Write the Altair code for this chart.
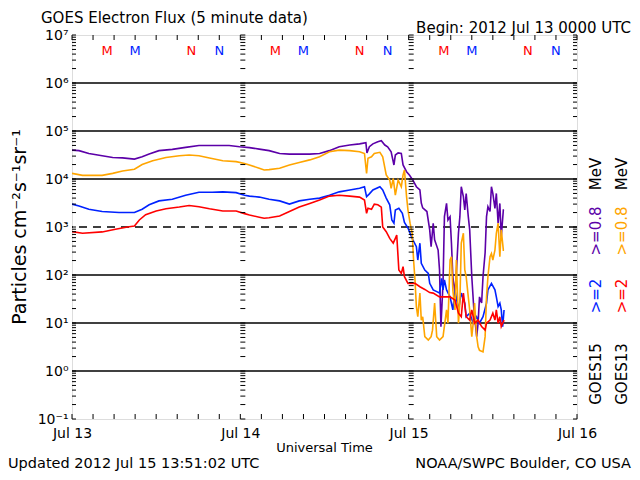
import json
import altair as alt
import pandas as pd

# ---------------- data (hours since 2012 Jul 13 00:00 UT, particle flux) ----------------
g15_08_hours = [0, 1, 2.4, 4.3, 5.8, 7.2, 8.9, 10, 11, 12.4, 14.3, 16.2, 18.1, 20, 22.4, 23.9,
                25.3, 26.7, 28.1, 29.6, 31, 32.4, 33.9, 35.3, 36.7, 38.1, 39.6, 41, 41.9, 42.05, 42.4,
                42.9, 43.6, 44.1, 44.6, 45, 45.5, 45.9, 46.1, 46.5, 46.95, 47.2, 47.7,
                48.1, 48.6, 49.1, 49.6, 49.8, 50.0, 50.6, 51.0, 51.2, 51.5, 51.7, 52.2, 52.4, 52.6,
                52.9, 53.1, 53.4, 53.6, 53.9, 54.1, 54.3, 54.6, 54.8, 55.1, 55.3, 55.5, 55.8, 56,
                56.2, 56.5, 56.7, 57.0, 57.3, 57.7, 57.9, 58.1, 58.4, 58.6, 58.9, 59.1, 59.3, 59.6,
                59.8, 60.0, 60.3, 60.5, 60.75, 61, 61.2, 61.5, 61.6]
g15_08_flux = [4.0e4, 3.9e4, 3.4e4, 3.05e4, 2.8e4, 2.75e4, 2.6e4, 2.9e4, 3.3e4, 3.9e4, 4.15e4, 4.55e4, 5.0e4, 5.0e4, 5.0e4, 4.7e4,
               4.5e4, 4.2e4, 3.9e4, 3.4e4, 3.3e4, 3.3e4, 3.3e4, 3.4e4, 3.9e4, 4.7e4, 5.1e4, 5.4e4, 5.7e4, 3.5e4, 4.7e4,
               5.4e4, 6.0e4, 6.3e4, 5.1e4, 4.7e4, 3.7e4, 1.96e4, 3.16e4, 3.5e4, 3.4e4, 1.96e4, 1.42e4,
               1.21e4, 9.5e3, 6.9e3, 5.9e3, 3.16e3, 2.5e3, 2.1e3, 8.7e2, 3.9e2, 1.2e3, 5.4e2, 3.3e2, 1.27e2, 8.4,
               68, 1.64e3, 3.1e3, 1.4e3, 1.64e3, 4.6e2, 92, 42, 1.1e2, 7.5e2, 1.64e3, 6.9e3, 4.3e3, 2.26e3,
               5.0e3, 1.64e3, 8.7e2, 92, 18.7, 5.2, 10, 35, 26, 92, 2.9e2, 1.64e3, 2.65e3, 2.1e3,
               6.9e3, 5.0e3, 2.45e3, 5.0e3, 1.2e3, 3.1e3, 6.3e2, 2.26e3, 2.26e3]

g13_08_hours = [0, 1.5, 4.3, 5.8, 7.2, 8.9, 10, 11.5, 13.4, 15.3, 16.7, 18.1, 19.6, 21.5, 23.4, 24.6,
                25.3, 26.7, 27.4, 28.1, 29.6, 31, 32.4, 33.9, 35.3, 36.7, 38.1, 39.6, 41, 41.7, 42.0,
                42.2, 42.7, 43.1, 43.9, 44.3, 44.8, 45.3, 45.5, 45.8, 46.1, 46.5, 46.95, 47.2, 47.4,
                47.7, 47.9, 48.2, 48.5, 48.7, 48.9, 49.1, 49.3, 49.6, 49.8, 50.0, 50.3, 50.8, 51.2,
                51.4, 51.7, 52.0, 52.4, 52.9, 53.4, 53.6, 53.9, 54.1, 54.3, 54.6, 54.8, 55.1, 55.3,
                55.5, 55.8, 56, 56.2, 56.5, 56.7, 57.0, 57.2, 57.4, 57.7, 57.9, 58.1, 58.6, 58.9,
                59.1, 59.3, 59.6, 59.8, 60.0, 60.3, 60.5, 60.75, 61, 61.2, 61.5, 61.6]
g13_08_flux = [1.31e4, 1.19e4, 1.19e4, 1.31e4, 1.47e4, 1.6e4, 2.0e4, 2.4e4, 2.8e4, 3.05e4, 3.16e4, 3.05e4, 2.75e4, 2.4e4, 2.3e4, 2.1e4,
               1.96e4, 1.67e4, 1.54e4, 1.57e4, 1.67e4, 1.96e4, 2.2e4, 2.5e4, 2.9e4, 3.7e4, 4.0e4, 3.9e4, 3.7e4, 3.4e4, 1.3e4,
               2.7e4, 2.9e4, 3.4e4, 3.6e4, 2.9e4, 1.21e4, 9.5e3, 6.4e3, 1.03e4, 4.6e3, 9.5e3, 6.9e3, 1.21e4, 1.54e4,
               4.3e3, 2.26e3, 1.2e3, 7.4e2, 2.05e2, 79, 22, 13.5, 42, 11.5, 13.5, 5.2, 4.4, 5.2,
               7.1, 26, 5.2, 4.4, 5.2, 18.7, 9.9, 2.05e2, 2.4e2, 49, 18.7, 2.05e2, 9.9, 26,
               4.6e2, 7.4e2, 1.27e2, 92, 35, 18.7, 5.2, 9.9, 26, 5.2, 3.2, 2.7, 2.5, 5.2,
               35, 92, 2.4e2, 2.8e2, 2.05e2, 3.3e2, 7.4e2, 1.2e3, 2.4e2, 8.7e2, 3.3e2, 3.3e2]

g15_2_hours = [0, 1, 2.4, 4.3, 6.7, 8.9, 10, 11, 12.4, 14.3, 16.2, 18.1, 20, 21.5, 23.4, 24.6,
               25.3, 26.7, 28.1, 29.6, 31, 32.4, 33.9, 35.3, 36.7, 38.1, 39.6, 41, 41.7, 42.0, 42.4,
               42.9, 43.9, 44.3, 44.8, 45.3, 45.6, 45.9, 46.1, 46.6, 47.1, 47.4, 47.9,
               48.2, 48.6, 49.1, 49.3, 49.6, 49.8, 50.3, 50.8, 51, 51.5, 52.0, 52.4, 52.7, 52.9,
               53.1, 53.4, 53.9, 54.3, 54.6, 55.1, 55.5, 56, 56.2, 56.7, 57.2, 57.7, 58.1, 58.6,
               59.1, 59.3, 59.8, 60.3, 60.5, 60.75, 61, 61.2, 61.4, 61.6]
g15_2_flux = [3.0e3, 2.75e3, 2.35e3, 2.1e3, 2.0e3, 2.0e3, 2.35e3, 2.9e3, 3.5e3, 3.8e3, 4.6e3, 5.3e3, 5.3e3, 5.4e3, 5.2e3, 4.6e3,
              4.4e3, 4.2e3, 3.8e3, 3.5e3, 3.0e3, 3.5e3, 3.8e3, 4.0e3, 4.6e3, 5.4e3, 5.9e3, 6.4e3, 6.9e3, 4.3e3, 4.9e3,
              5.9e3, 6.9e3, 5.9e3, 4.0e3, 2.9e3, 1.4e3, 1.2e3, 2.26e3, 2.45e3, 1.93e3, 1.25e3, 9.5e2,
              7.4e2, 5.4e2, 3.9e2, 2.05e2, 4.6e2, 1.75e2, 1.27e2, 1.08e2, 67, 49, 45, 42, 85, 49,
              79, 49, 35, 18.7, 49, 18.7, 42, 26, 13.5, 16, 9.9, 13.5, 9.9, 13.5,
              26, 49, 67, 49, 35, 22, 26, 18.7, 8.4, 18.7]

g13_2_hours = [0, 1.5, 4.3, 6.2, 7.9, 8.9, 9.6, 10.5, 12, 13.4, 15.3, 16.7, 18.1, 19.6, 21.5, 23.4, 24.6,
               25.3, 26.7, 27.4, 28.1, 29.6, 31, 32.4, 33.9, 35.3, 36.7, 38.1, 39.6, 41, 41.7, 42.0,
               42.2, 42.7, 43.1, 43.6, 44.1, 44.3, 44.8, 45.3, 45.8, 46.1, 46.3, 46.6, 46.95, 47.2,
               47.4, 47.9, 48.4, 48.9, 49.6, 50.3, 51, 51.5, 52.4, 53.1, 53.9, 54.6, 55.1, 55.5,
               55.8, 56.2, 56.7, 57, 57.4, 57.9, 58.4, 58.9, 59.1, 59.6, 60, 60.3, 60.5, 60.75,
               61, 61.2, 61.6]
g13_2_flux = [8.0e2, 7.4e2, 7.9e2, 9.0e2, 1.0e3, 1.05e3, 1.4e3, 1.8e3, 2.15e3, 2.4e3, 2.6e3, 2.8e3, 2.65e3, 2.4e3, 2.15e3, 2.15e3, 1.9e3,
              1.78e3, 1.6e3, 1.52e3, 1.56e3, 1.7e3, 2.1e3, 2.6e3, 3.1e3, 3.65e3, 4.4e3, 4.6e3, 4.4e3, 4.2e3, 3.65e3, 1.93e3,
              2.45e3, 2.34e3, 3.0e3, 2.9e3, 2.6e3, 1.0e3, 8.0e2, 5.8e2, 4.6e2, 5.8e2, 6.8e2, 1.27e2, 1.08e2, 1.49e2,
              92, 67, 67, 67, 57, 50, 43, 42, 35, 35, 35, 30, 16, 13.5,
              42, 13.5, 11.5, 18.7, 9.9, 11.5, 8.4, 7.1, 9.9, 11.5, 16, 11.5, 18.7, 9.9,
              13.5, 8.4, 11.5]

day_ticks = [0, 24, 48, 72]
day_labels = ["Jul 13", "Jul 14", "Jul 15", "Jul 16"]
decades = [0.1, 1, 10, 100, 1e3, 1e4, 1e5, 1e6, 1e7]
decade_labels = ["10⁻¹", "10⁰", "10¹", "10²", "10³", "10⁴", "10⁵", "10⁶", "10⁷"]
grid_solid = [1, 10, 100, 1e4, 1e5, 1e6]
grid_dashed = [1e3]
# local midnight (M) / noon (N) markers: hour of day, satellite colour
mn_letters = ["M", "M", "N", "N"]
mn_hours = [5, 9, 17, 21]
mn_colors = ["#ff0000", "#0022ff", "#ff0000", "#0022ff"]

PURPLE, ORANGE, BLUE, RED = "#5c00a8", "#ffa500", "#0022ff", "#ff0000"
FONT = "DejaVu Sans"
W, H = 505, 384

# ---------------- build tables ----------------
def series_df(hours, flux):
    return pd.DataFrame({"hour": hours, "v": flux})

minor_vals = [k * 10.0 ** n for n in range(-1, 7) for k in range(1, 10)] + [1e7]
ytick_df = pd.DataFrame({"v": minor_vals})
xtick_df = pd.DataFrame({"hour": list(range(0, 73, 3))})
daytick_df = pd.DataFrame([{"hour": d, "v": v} for d in day_ticks[1:3] for v in minor_vals])
mn_rows = []
for d in range(3):
    for L, h, c in zip(mn_letters, mn_hours, mn_colors):
        mn_rows.append({"hour": d * 24 + h, "L": L, "c": c})
mn_df = pd.DataFrame(mn_rows)

xscale = alt.Scale(domain=[0, 72], nice=False, zero=False)
yscale = alt.Scale(type="log", domain=[0.1, 1e7], nice=False)

x_axis = alt.Axis(values=day_ticks, labelExpr=f"{json.dumps(day_labels)}[round(datum.value/24)]",
                  ticks=False, domain=False, grid=False, labelFontSize=14, labelPadding=7,
                  labelFlush=False, labelOverlap=False,
                  labelColor="black", labelFont=FONT, title=None)
y_axis = alt.Axis(values=decades,
                  labelExpr=f"{json.dumps(decade_labels, ensure_ascii=False)}[round(log(datum.value)/LN10)+1]",
                  ticks=False, domain=False, grid=False, labelFontSize=14, labelPadding=4,
                  labelFlush=False, labelOverlap=False,
                  labelColor="black", labelFont=FONT, title=None)

X = lambda: alt.X("hour:Q", scale=xscale, axis=x_axis)
Y = lambda: alt.Y("v:Q", scale=yscale, axis=y_axis)

layers = []

# grid lines
layers.append(alt.Chart(pd.DataFrame({"v": grid_solid})).mark_rule(color="black", strokeWidth=1.5)
              .encode(y=Y()))
layers.append(alt.Chart(pd.DataFrame({"v": grid_dashed})).mark_rule(color="black", strokeWidth=1.3, strokeDash=[8, 6])
              .encode(y=Y()))

# data lines
for hrs, flx, col in [(g15_08_hours, g15_08_flux, PURPLE), (g15_2_hours, g15_2_flux, BLUE),
                      (g13_08_hours, g13_08_flux, ORANGE), (g13_2_hours, g13_2_flux, RED)]:
    layers.append(alt.Chart(series_df(hrs, flx)).mark_line(color=col, strokeWidth=1.6, clip=True)
                  .encode(x=X(), y=Y()))

# ticks
layers.append(alt.Chart(xtick_df).mark_rule(color="black", strokeWidth=1)
              .encode(x=X(), y=alt.value(H), y2=alt.value(H - 5)))
layers.append(alt.Chart(xtick_df).mark_rule(color="black", strokeWidth=1)
              .encode(x=X(), y=alt.value(0), y2=alt.value(5)))
layers.append(alt.Chart(ytick_df).mark_rule(color="black", strokeWidth=1)
              .encode(y=Y(), x=alt.value(0), x2=alt.value(4)))
layers.append(alt.Chart(ytick_df).mark_rule(color="black", strokeWidth=1)
              .encode(y=Y(), x=alt.value(W), x2=alt.value(W - 4)))
layers.append(alt.Chart(daytick_df).mark_tick(orient="horizontal", color="black", size=5, thickness=1,
                                                xOffset=2.5, opacity=1)
              .encode(x=X(), y=Y()))

# M / N letters
layers.append(alt.Chart(mn_df).mark_text(font=FONT, fontSize=13, baseline="middle", align="center")
              .encode(x=X(), y=alt.value(16), text="L:N", color=alt.Color("c:N", scale=None)))

# text annotations
def txt(s, x, y, size=15, align="left", color="black", angle=0):
    kw = dict(font=FONT, fontSize=size, align=align, baseline="middle", color=color)
    if angle:
        kw["angle"] = angle
    return alt.Chart(pd.DataFrame({"t": [s]})).mark_text(**kw).encode(
        text="t:N", x=alt.value(x), y=alt.value(y))

layers += [
    txt("GOES Electron Flux (5 minute data)", -31, -17),
    txt("Begin: 2012 Jul 13 0000 UTC", 559, -7, align="right"),
    txt("Updated 2012 Jul 15 13:51:02 UTC", -64, 429, size=14.5),
    txt("NOAA/SWPC Boulder, CO USA", 559, 429, size=14.5, align="right"),
    txt("Universal Time", W / 2, 413, size=13, align="center"),
    txt("Particles cm⁻²s⁻¹sr⁻¹", -52, H / 2, size=19, align="center", angle=270),
    # legend, column 1 (GOES15)
    txt("GOES15", 524, 339, align="center", angle=270),
    txt(">=2", 524, 261, align="center", angle=270, color=BLUE),
    txt(">=0.8", 524, 196, align="center", angle=270, color=PURPLE),
    txt("MeV", 524, 139, align="center", angle=270),
    # legend, column 2 (GOES13)
    txt("GOES13", 550, 339, align="center", angle=270),
    txt(">=2", 550, 261, align="center", angle=270, color=RED),
    txt(">=0.8", 550, 196, align="center", angle=270, color=ORANGE),
    txt("MeV", 550, 139, align="center", angle=270),
]

chart = alt.layer(*layers).properties(
    width=W, height=H,
    autosize=alt.AutoSizeParams(type="none"),
    padding={"left": 64, "top": 27, "right": 55, "bottom": 53},
    background="white",
).configure_view(stroke="black", strokeWidth=1.5).configure(font=FONT)

chart.save("out.html", embed_options={"renderer": "svg", "actions": False})
